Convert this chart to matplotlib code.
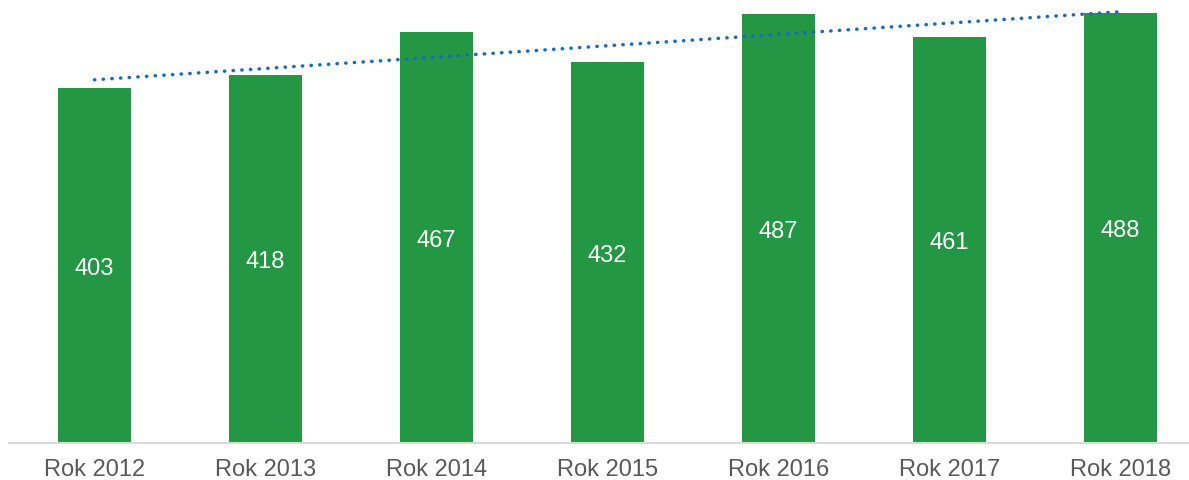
import numpy as np
import matplotlib
matplotlib.use('Agg')
import matplotlib.pyplot as plt

plt.rcParams['font.family'] = ['Liberation Sans', 'DejaVu Sans']

# data
categories = ['Rok 2012', 'Rok 2013', 'Rok 2014', 'Rok 2015', 'Rok 2016', 'Rok 2017', 'Rok 2018']
values = [403, 418, 467, 432, 487, 461, 488]

W, H = 1189, 481
fig = plt.figure(figsize=(W / 100, H / 100), dpi=100)
# plot area is slightly wider than the picture on the right (cropped like the original)
ax = fig.add_axes([9 / W, 37.5 / H, 1197 / W, 440 / H])

x = np.arange(len(categories))
ax.bar(x, values, width=0.427, color='#239743', zorder=2)

for xi, v in zip(x, values):
    ax.text(xi, v / 2, str(v), ha='center', va='center_baseline', color='white', fontsize=17)

# linear trend line
k, b = np.polyfit(x + 1, values, 1)
ax.plot(x, k * (x + 1) + b, color='#1A6BBF', lw=2.5, linestyle=(0, (0.1, 2.4)),
        dash_capstyle='round', zorder=3)

ax.set_xlim(-0.5, len(categories) - 0.5)
ax.set_ylim(0, 500)
ax.set_xticks(x)
ax.set_xticklabels(categories, fontsize=17, color='#595959')
ax.tick_params(axis='x', length=0, pad=11.5)
ax.set_yticks([])
for s in ['top', 'right', 'left']:
    ax.spines[s].set_visible(False)
ax.spines['bottom'].set_color('#D9D9D9')
ax.spines['bottom'].set_linewidth(1.5)

fig.savefig('out.png', dpi=100)
